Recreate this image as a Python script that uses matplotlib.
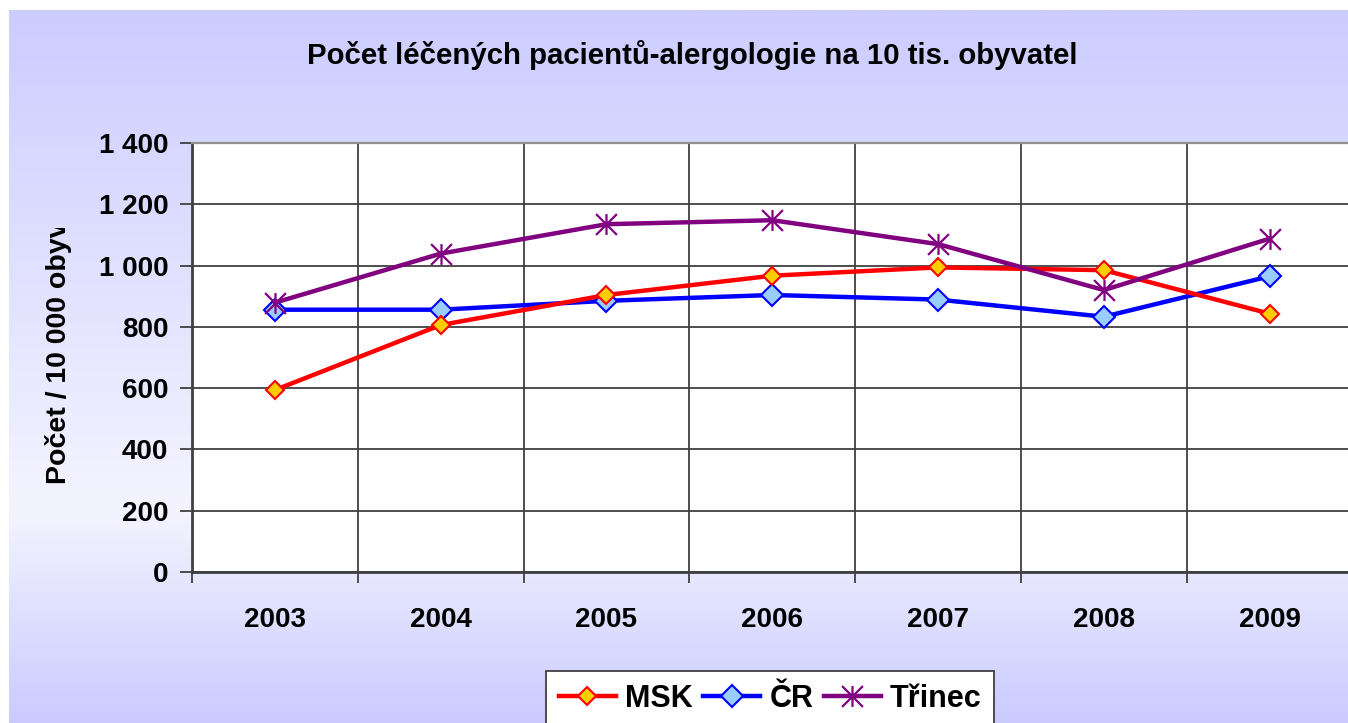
import numpy as np
import matplotlib
matplotlib.use("Agg")
import matplotlib.pyplot as plt
from matplotlib.path import Path
from matplotlib.ticker import FixedLocator, FuncFormatter
from matplotlib.patches import Rectangle

years = ["2003", "2004", "2005", "2006", "2007", "2008", "2009"]
msk = [594, 806, 904, 967, 994, 985, 843]
cr = [856, 856, 885, 904, 889, 833, 965]
trinec = [879, 1039, 1135, 1148, 1070, 920, 1088]
series_names = ["MSK", "ČR", "Třinec"]
title = "Počet léčených pacientů-alergologie na 10 tis. obyvatel"
ylabel = "Počet / 10 000 obyv"
yticks = [0, 200, 400, 600, 800, 1000, 1200, 1400]

plt.rcParams['font.family'] = ['Liberation Sans', 'DejaVu Sans']
plt.rcParams['font.weight'] = 'bold'

W, H = 1348, 723
fig = plt.figure(figsize=(W / 100, H / 100), dpi=100, facecolor='white')

# background gradient
bg = fig.add_axes([9 / W, 0, 1 - 9 / W, (H - 10) / H], zorder=-10)
ys = np.linspace(10, H, 400)
light = np.interp(ys, [10, 510, H], [204, 244, 202]) / 255.0
grad = np.zeros((len(ys), 1, 3))
grad[:, 0, 0] = light
grad[:, 0, 1] = light
grad[:, 0, 2] = 1.0
bg.imshow(grad, aspect='auto', extent=[0, 1, 0, 1], origin='upper')
bg.set_axis_off()

# main axes
left, right, top, bottom = 192, 1352.6, 143, 572
ax = fig.add_axes([left / W, (H - bottom) / H, (right - left) / W, (bottom - top) / H])
ax.set_facecolor('white')
x = np.arange(len(years))

star = Path([(-1, -1), (1, 1), (-1, 1), (1, -1), (0, -1), (0, 1)],
            [Path.MOVETO, Path.LINETO, Path.MOVETO, Path.LINETO, Path.MOVETO, Path.LINETO])

ax.plot(x, msk, color='#FF0000', lw=3.2, marker='D', ms=8.8, mfc='#FFCC00',
        mec='#FF0000', mew=1.5, label=series_names[0], zorder=5)
ax.plot(x, cr, color='#0000FF', lw=3.2, marker='D', ms=11, mfc='#99CCFF',
        mec='#0000FF', mew=1.5, label=series_names[1], zorder=4)
ax.plot(x, trinec, color='#800080', lw=3.2, marker=star, ms=15, mfc='none',
        mec='#800080', mew=1.6, label=series_names[2], zorder=6)

ax.set_xlim(-0.5, len(years) - 0.5)
ax.set_ylim(0, 1400)
ax.yaxis.set_major_locator(FixedLocator(yticks))
ax.yaxis.set_major_formatter(FuncFormatter(lambda v, p: f"{int(v):,}".replace(",", " ")))
ax.set_xticks(x)
ax.set_xticklabels(years)
ax.xaxis.set_minor_locator(FixedLocator(np.arange(-0.5, len(years), 1.0)))
ax.tick_params(axis='x', which='major', length=0, pad=25, labelsize=20)
ax.tick_params(axis='x', which='minor', length=8, width=1.3, color='#404040', direction='out')
ax.tick_params(axis='y', which='major', length=9, width=1.3, color='#404040', direction='out',
               pad=8, labelsize=20)
for lab in ax.get_xticklabels() + ax.get_yticklabels():
    lab.set_fontweight('bold')

ax.grid(True, axis='y', which='major', color='#404040', lw=1.3)
ax.grid(True, axis='x', which='minor', color='#404040', lw=1.3)
ax.set_axisbelow(True)
for s in ['top', 'right']:
    ax.spines[s].set_color('#909090')
    ax.spines[s].set_linewidth(1.6)
ax.spines['left'].set_color('#404040')
ax.spines['left'].set_linewidth(2)
ax.spines['bottom'].set_color('#404040')
ax.spines['bottom'].set_linewidth(2)

# title
fig.text(692 / W, 1 - 55 / H, title, ha='center', va='center', fontsize=21.2, fontweight='bold')

# y label, clipped at top like the original
yl = fig.text(58 / W, 1 - 484 / H, ylabel, rotation=90, rotation_mode='anchor',
              ha='left', va='center', fontsize=20.5, fontweight='bold')
clip = Rectangle((0, 0), 1, 1 - 228 / H, transform=fig.transFigure)
yl.set_clip_path(clip)

leg = fig.legend(loc='upper left', bbox_to_anchor=(546 / W, 1 - 671 / H), ncol=3,
                 frameon=True, fancybox=False, framealpha=1, edgecolor='#404040',
                 prop={'size': 22, 'weight': 'bold'}, handlelength=1.86, handletextpad=0.3,
                 columnspacing=0.35, borderpad=0.42, borderaxespad=0)
leg.get_frame().set_linewidth(1.3)

fig.savefig('out.png', dpi=100, facecolor=fig.get_facecolor())
